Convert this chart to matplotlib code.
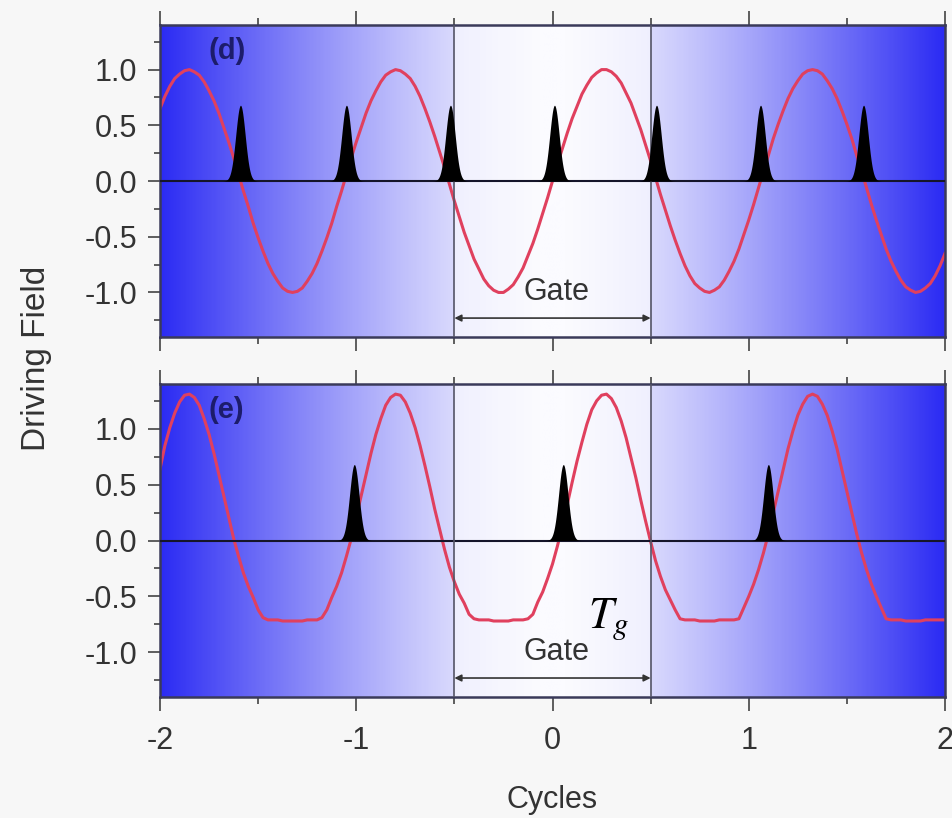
import numpy as np
import matplotlib.pyplot as plt
from matplotlib import font_manager
from matplotlib.colors import LinearSegmentedColormap
from matplotlib.ticker import MultipleLocator

plt.rcParams['font.family'] = ['Liberation Sans', 'DejaVu Sans']
plt.rcParams['mathtext.fontset'] = 'stix'

# tick labels in the original are tall and narrow
try:
    font_manager.findfont('Liberation Sans Narrow', fallback_to_default=False)
    tick_font, tick_size = 'Liberation Sans Narrow', 26
except ValueError:
    tick_font, tick_size = 'Liberation Sans', 22

# sample grid in cycles, -2 .. 2 every 0.025
cycles = np.round(np.arange(-80, 81) * 0.025, 3)

# (d) plain sinusoidal driving field
field_d = [0.65, 0.76, 0.85, 0.92, 0.96, 0.99, 1.00, 0.98, 0.95, 0.89,
           0.81, 0.72, 0.61, 0.48, 0.35, 0.21, 0.06, -0.09, -0.23, -0.38,
           -0.51, -0.63, -0.74, -0.83, -0.90, -0.96, -0.99, -1.00, -0.99, -0.96,
           -0.90, -0.83, -0.74, -0.63, -0.51, -0.38, -0.23, -0.09, 0.06, 0.21,
           0.35, 0.48, 0.61, 0.72, 0.81, 0.89, 0.95, 0.98, 1.00, 0.99,
           0.96, 0.92, 0.85, 0.76, 0.65, 0.53, 0.40, 0.26, 0.12, -0.03,
           -0.18, -0.32, -0.46, -0.58, -0.70, -0.79, -0.88, -0.94, -0.98, -1.00,
           -1.00, -0.97, -0.93, -0.86, -0.78, -0.67, -0.56, -0.43, -0.29, -0.15,
           0.00,
           0.15, 0.29, 0.43, 0.56, 0.67, 0.78, 0.86, 0.93, 0.97, 1.00,
           1.00, 0.98, 0.94, 0.88, 0.79, 0.70, 0.58, 0.46, 0.32, 0.18,
           0.03, -0.12, -0.26, -0.40, -0.53, -0.65, -0.76, -0.85, -0.92, -0.96,
           -0.99, -1.00, -0.98, -0.95, -0.89, -0.81, -0.72, -0.61, -0.48, -0.35,
           -0.21, -0.06, 0.09, 0.23, 0.38, 0.51, 0.63, 0.74, 0.83, 0.90,
           0.96, 0.99, 1.00, 0.99, 0.96, 0.90, 0.83, 0.74, 0.63, 0.51,
           0.38, 0.23, 0.09, -0.06, -0.21, -0.35, -0.48, -0.61, -0.72, -0.81,
           -0.89, -0.95, -0.98, -1.00, -0.99, -0.96, -0.92, -0.85, -0.76, -0.65]

# (e) two-colour field with flat troughs
field_e = [0.64, 0.85, 1.01, 1.14, 1.24, 1.30, 1.31, 1.28, 1.21, 1.09,
           0.95, 0.78, 0.59, 0.40, 0.21, 0.02, -0.14, -0.29, -0.41, -0.51,
           -0.62, -0.69, -0.71, -0.71, -0.71, -0.72, -0.72, -0.72, -0.72, -0.72,
           -0.71, -0.71, -0.71, -0.69, -0.62, -0.51, -0.41, -0.29, -0.14, 0.02,
           0.21, 0.40, 0.59, 0.78, 0.95, 1.09, 1.21, 1.28, 1.31, 1.30,
           1.24, 1.14, 1.01, 0.85, 0.67, 0.48, 0.28, 0.10, -0.08, -0.24,
           -0.37, -0.48, -0.56, -0.66, -0.70, -0.71, -0.71, -0.71, -0.72, -0.72,
           -0.72, -0.72, -0.71, -0.71, -0.71, -0.70, -0.66, -0.55, -0.46, -0.34,
           -0.21,
           -0.05, 0.13, 0.32, 0.52, 0.71, 0.88, 1.04, 1.17, 1.25, 1.30,
           1.31, 1.27, 1.19, 1.07, 0.92, 0.74, 0.56, 0.36, 0.17, -0.01,
           -0.18, -0.32, -0.44, -0.53, -0.62, -0.70, -0.71, -0.71, -0.71, -0.72,
           -0.72, -0.72, -0.72, -0.71, -0.71, -0.71, -0.71, -0.70, -0.60, -0.50,
           -0.39, -0.26, -0.11, 0.06, 0.25, 0.44, 0.63, 0.82, 0.98, 1.12,
           1.22, 1.29, 1.31, 1.29, 1.22, 1.12, 0.98, 0.82, 0.63, 0.44,
           0.25, 0.06, -0.11, -0.26, -0.39, -0.50, -0.60, -0.70, -0.71, -0.71,
           -0.71, -0.72, -0.72, -0.72, -0.72, -0.71, -0.71, -0.71, -0.71, -0.71]

# attosecond bursts (centre in cycles)
bursts_d = [-1.59, -1.05, -0.52, 0.01, 0.53, 1.06, 1.585]
bursts_e = [-1.01, 0.055, 1.10]
burst_height = 0.68

gate = [-0.5, 0.5]
panel_labels = ['(d)', '(e)']

blue = LinearSegmentedColormap.from_list('bg', ['#fbfbff', '#2b2bf3'])

fig = plt.figure(figsize=(9.53, 8.18), dpi=100)
fig.patch.set_facecolor('#f7f7f7')
ax_d = fig.add_axes([0.1679, 0.588, 0.8237, 0.3814])
ax_e = fig.add_axes([0.1679, 0.1479, 0.8237, 0.3826])


def draw_panel(ax, field, bursts, label):
    # background shading: blue at the edges, white inside the gate
    xb = np.linspace(-2, 2, 800)
    shade = (np.abs(xb) / 2) ** 1.3
    shade[(xb > gate[0]) & (xb < gate[1])] *= 0.35
    ax.imshow(shade[None, :], extent=[-2, 2, -1.4, 1.4], aspect='auto',
              cmap=blue, vmin=0, vmax=1, zorder=0)

    ax.plot(cycles, field, color='#e0405e', lw=2.2, zorder=2)
    ax.axhline(0, color='#15152a', lw=1.5, zorder=3)
    for g in gate:
        ax.axvline(g, color='#555566', lw=1.2, zorder=3)

    for c in bursts:
        px = c + np.linspace(-0.1, 0.1, 121)
        ax.fill_between(px, 0, burst_height * np.exp(-0.5 * ((px - c) / 0.024) ** 2),
                        color='black', lw=0, zorder=4)

    ax.annotate('', xy=(gate[1], -1.23), xytext=(gate[0], -1.23),
                arrowprops=dict(arrowstyle='<|-|>', color='#333333', lw=1.2,
                                mutation_scale=10, shrinkA=0, shrinkB=0), zorder=5)
    ax.text(0.02, -1.0, 'Gate', ha='center', va='center', fontsize=22, color='#333333')
    ax.text(-1.66, 1.17, label, ha='center', va='center', fontsize=21,
            fontweight='bold', color='#1c1c6b')

    ax.set_xlim(-2, 2)
    ax.set_ylim(-1.4, 1.4)
    ax.xaxis.set_major_locator(MultipleLocator(1))
    ax.xaxis.set_minor_locator(MultipleLocator(0.5))
    ax.yaxis.set_minor_locator(MultipleLocator(0.25))
    ax.set_yticks([-1.0, -0.5, 0.0, 0.5, 1.0])
    ax.set_yticklabels(['-1.0', '-0.5', '0.0', '0.5', '1.0'])
    ax.tick_params(axis='x', which='both', direction='out', top=True, bottom=True,
                   color='#444444', width=1.2, labelsize=tick_size, labelcolor='#333333',
                   labelfontfamily=tick_font, pad=11)
    ax.tick_params(axis='x', which='major', length=10)
    ax.tick_params(axis='x', which='minor', length=5)
    ax.tick_params(axis='y', which='both', direction='out', left=True, right=False,
                   color='#444444', width=1.2, labelsize=tick_size, labelcolor='#333333',
                   labelfontfamily=tick_font, pad=8)
    ax.tick_params(axis='y', which='major', length=8.6)
    ax.tick_params(axis='y', which='minor', length=4.3)
    for s in ax.spines.values():
        s.set_color('#3a3a5a')
        s.set_linewidth(1.8)


draw_panel(ax_d, field_d, bursts_d, panel_labels[0])
draw_panel(ax_e, field_e, bursts_e, panel_labels[1])

ax_d.tick_params(axis='x', labelbottom=False)
ax_e.set_xticks([-2, -1, 0, 1, 2])
ax_e.set_xticklabels(['-2', '-1', '0', '1', '2'])

ax_e.text(0.18, -0.78, r'$T_g$', fontsize=32, ha='left', va='baseline', color='black')

fig.text(0.038, 1 - 358 / 818, 'Driving Field', rotation=90, ha='center', va='center',
         fontsize=24, color='#333333')
fig.text(552 / 953, 1 - 800 / 818, 'Cycles', ha='center', va='center',
         fontsize=22, color='#333333')

fig.savefig('out.png', dpi=100, facecolor=fig.get_facecolor())
